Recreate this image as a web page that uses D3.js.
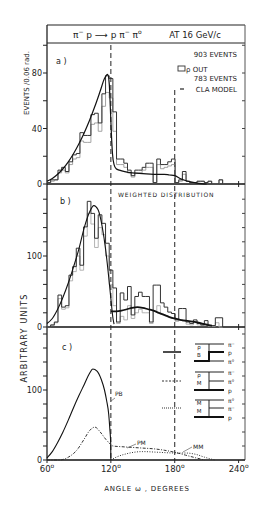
<!DOCTYPE html>
<html><head><meta charset="utf-8">
<script src="https://cdn.jsdelivr.net/npm/d3@7"></script>
<style>
body{margin:0;background:#fff;}
text{font-family:"DejaVu Sans",sans-serif;fill:#222;}
</style></head>
<body><svg id="c" width="273" height="511"></svg>
<script>
// ---- data ----
const binStart = 60;            // degrees
const binWidth = 3.4377;        // 0.06 rad in degrees
const histA = [1,3,3,10,12,9,16,21,22,37,35,35,50,51,44,65,78,76,52,18,18,15,10,6,10,10,12,15,15,1,18,14,14,16,18,1,3,9,2,1,1,2,2,1,2,0,0,3];
const histAout = [1,2,3,8,10,8,14,18,19,31,30,30,43,44,38,56,66,62,38,14,14,12,8,5,8,8,10,12,12,1,14,11,12,13,14,1,2,7,2,1,1,2,2,1,2,0,0,3];
const curveA = [[60,2],[65,4],[70,7],[75,11],[80,16],[85,22],[90,29],[95,37],[100,46],[105,56],[110,67],[114,76],[117,79],[118.5,72],[119.5,55],[120.5,36],[121.5,22],[123,14],[125,11],[128,10],[140,8],[150,7.5],[160,7],[170,7],[175,6.5],[180,6],[185,4],[190,2.5],[195,1.5],[200,0.8],[205,0.3],[210,0]];
const histB = [0,3,7,45,28,30,73,85,111,87,141,177,160,125,158,146,118,80,55,7,48,38,57,17,43,49,43,43,7,59,59,34,28,21,19,10,26,26,7,5,10,5,3,9,2,2,13,13];
const histBout = [0,2,6,40,25,27,65,78,100,80,128,160,145,112,140,130,100,60,30,5,15,10,30,12,20,25,20,20,5,22,30,18,16,14,12,8,10,8,4,3,6,3,2,5,1,1,6,0];
const curveB1 = [[60,5],[65,12],[70,25],[75,42],[80,62],[85,85],[90,110],[95,140],[100,162],[104,171],[108,165],[112,140],[115,110],[118,70],[120,40],[122,12],[123,4]];
const curveB2 = [[120,22],[125,22],[130,23],[135,25],[140,27],[145,28],[150,27],[155,25],[160,23],[165,20],[170,17],[175,14],[180,12],[185,10],[190,9],[195,8],[200,7],[205,5],[210,3],[215,2]];
const curvePB = [[60,3],[65,12],[70,25],[75,40],[80,57],[85,75],[90,92],[95,108],[100,124],[103,130],[107,127],[111,115],[114,100],[116,85],[118,65],[119,45],[119.8,25],[120,0]];
const curvePM = [[60,0],[72,0],[80,4],[88,14],[95,30],[100,42],[105,47],[110,40],[115,30],[118,25],[122,20],[130,19],[140,18],[150,17],[160,16],[170,14],[180,11],[190,7],[200,3],[208,0]];
const curveMM = [[120,0],[125,4],[135,9],[150,12],[165,11],[180,10],[190,10],[200,8],[208,4],[215,1],[218,0]];
const xTicks = [60,120,180,240];
const yTicksA = [0,40,80], yTicksB = [0,100], yTicksC = [0,100];

// ---- layout ----
const svg = d3.select("#c");
const L = 47, R = 245;
const x = d3.scaleLinear().domain([60,246]).range([L,R]);
const yA = d3.scaleLinear().domain([0,80]).range([184,73]);
const yB = d3.scaleLinear().domain([0,100]).range([327,256]);
const yC = d3.scaleLinear().domain([0,100]).range([460,390]);

function histLine(vals, y){
  const pts = vals.map((v,i)=>[binStart+i*binWidth, v]);
  pts.push([binStart+vals.length*binWidth, 0]);
  return d3.line().x(d=>x(d[0])).y(d=>y(d[1])).curve(d3.curveStepAfter)(pts);
}
function curveLine(pts, y){
  return d3.line().x(d=>x(d[0])).y(d=>y(d[1])).curve(d3.curveMonotoneX)(pts);
}

// frame
svg.append("line").attr("x1",L).attr("x2",R).attr("y1",25).attr("y2",25).attr("stroke","#222").attr("stroke-width",1.2);
svg.append("line").attr("x1",L).attr("x2",R).attr("y1",43).attr("y2",43).attr("stroke","#222").attr("stroke-width",1);
svg.append("line").attr("x1",L).attr("x2",L).attr("y1",25).attr("y2",460).attr("stroke","#222").attr("stroke-width",1.3);
svg.append("line").attr("x1",R).attr("x2",R).attr("y1",25).attr("y2",460).attr("stroke","#555").attr("stroke-width",1);

// baselines
[[yA,184],[yB,327],[yC,460]].forEach(([y,yy])=>{
  svg.append("line").attr("x1",L).attr("x2",R).attr("y1",yy).attr("y2",yy).attr("stroke","#111").attr("stroke-width",1.5);
});
[184,327].forEach(yy=>{
  svg.append("line").attr("x1",x(240)).attr("x2",x(240)).attr("y1",yy-3).attr("y2",yy+3).attr("stroke","#222");
});

// y ticks
function yTicksDraw(y, lo, hi, step, labels){
  for(let v=lo; v<=hi; v+=step){
    svg.append("line").attr("x1",L-4).attr("x2",L).attr("y1",y(v)).attr("y2",y(v)).attr("stroke","#222");
    svg.append("line").attr("x1",R-3).attr("x2",R).attr("y1",y(v)).attr("y2",y(v)).attr("stroke","#444");
  }
  labels.forEach(v=>{
    svg.append("text").attr("x",L-5).attr("y",y(v)+3).attr("text-anchor","end").attr("font-size",8).text(v);
  });
}
yTicksDraw(yA,0,100,20,yTicksA);
yTicksDraw(yB,0,190,20,yTicksB);
yTicksDraw(yC,0,180,20,yTicksC);

// x ticks
xTicks.forEach(t=>{
  svg.append("line").attr("x1",x(t)).attr("x2",x(t)).attr("y1",460).attr("y2",463).attr("stroke","#222");
  const g = svg.append("text").attr("x",x(t)).attr("y",472).attr("text-anchor","middle").attr("font-size",8.5);
  g.append("tspan").text(t);
  g.append("tspan").attr("dy",-4).attr("font-size",6).text("o");
});
svg.append("text").attr("x",147).attr("y",491).attr("text-anchor","middle").attr("font-size",7).attr("letter-spacing",0.8).text("ANGLE  ω  ,  DEGREES");

// vertical dashed lines
svg.append("line").attr("x1",x(120)).attr("x2",x(120)).attr("y1",45).attr("y2",460).attr("stroke","#222").attr("stroke-width",1).attr("stroke-dasharray","5,3");
svg.append("line").attr("x1",x(180)).attr("x2",x(180)).attr("y1",90).attr("y2",460).attr("stroke","#222").attr("stroke-width",1).attr("stroke-dasharray","5,3");

// Panel a
svg.append("path").attr("d",histLine(histAout,yA)).attr("fill","none").attr("stroke","#999").attr("stroke-width",0.9);
svg.append("path").attr("d",histLine(histA,yA)).attr("fill","none").attr("stroke","#333").attr("stroke-width",1);
svg.append("path").attr("d",curveLine(curveA,yA)).attr("fill","none").attr("stroke","#111").attr("stroke-width",1.2);

// Panel b
svg.append("path").attr("d",histLine(histBout,yB)).attr("fill","none").attr("stroke","#aaa").attr("stroke-width",0.9);
svg.append("path").attr("d",histLine(histB,yB)).attr("fill","none").attr("stroke","#333").attr("stroke-width",1);
svg.append("path").attr("d",curveLine(curveB1,yB)).attr("fill","none").attr("stroke","#111").attr("stroke-width",1.1);
svg.append("path").attr("d",curveLine(curveB2,yB)).attr("fill","none").attr("stroke","#111").attr("stroke-width",1.8);

// Panel c
svg.append("path").attr("d",d3.line().x(d=>x(d[0])).y(d=>yC(d[1])).curve(d3.curveMonotoneX)(curvePB)).attr("fill","none").attr("stroke","#111").attr("stroke-width",1.1);
svg.append("path").attr("d",curveLine(curvePM,yC)).attr("fill","none").attr("stroke","#333").attr("stroke-width",1).attr("stroke-dasharray","3,1.5,1,1.5");
svg.append("path").attr("d",curveLine(curveMM,yC)).attr("fill","none").attr("stroke","#333").attr("stroke-width",1).attr("stroke-dasharray","1,1.5");

// curve labels in c
svg.append("text").attr("x",115).attr("y",396).attr("font-size",6).text("PB");
svg.append("line").attr("x1",111).attr("x2",115).attr("y1",401).attr("y2",398).attr("stroke","#444").attr("stroke-width",0.6);
svg.append("text").attr("x",137).attr("y",445).attr("font-size",6).text("PM");
svg.append("line").attr("x1",127).attr("x2",136).attr("y1",448).attr("y2",444).attr("stroke","#444").attr("stroke-width",0.6);
svg.append("text").attr("x",193).attr("y",449).attr("font-size",6).text("MM");
svg.append("line").attr("x1",183).attr("x2",192).attr("y1",452).attr("y2",447).attr("stroke","#444").attr("stroke-width",0.6);

// legend in c
svg.append("line").attr("x1",163).attr("x2",181).attr("y1",352).attr("y2",352).attr("stroke","#111").attr("stroke-width",1.5);
svg.append("line").attr("x1",162).attr("x2",181).attr("y1",381).attr("y2",381).attr("stroke","#333").attr("stroke-width",1).attr("stroke-dasharray","2,1.5");
svg.append("line").attr("x1",162).attr("x2",181).attr("y1",408).attr("y2",408).attr("stroke","#333").attr("stroke-width",1).attr("stroke-dasharray","1,1");
const diag = [
  {y:[344,352,361], labs:["π⁻","p","π°"], inner:["ρ","B"], thickMid:true},
  {y:[372,381,390], labs:["π⁻","π°","p"], inner:["ρ","M"], thickMid:false},
  {y:[400,408,417], labs:["π°","π⁻","p"], inner:["M","M"], thickMid:false}
];
diag.forEach(d=>{
  svg.append("line").attr("x1",195).attr("x2",224).attr("y1",d.y[0]).attr("y2",d.y[0]).attr("stroke","#222").attr("stroke-width",1);
  svg.append("line").attr("x1",209).attr("x2",209).attr("y1",d.y[0]).attr("y2",d.y[2]).attr("stroke","#222").attr("stroke-width",1);
  svg.append("line").attr("x1",209).attr("x2",224).attr("y1",d.y[1]).attr("y2",d.y[1]).attr("stroke","#222").attr("stroke-width",1);
  if(d.thickMid){
    svg.append("path").attr("d",`M194,${d.y[2]}H209V${d.y[1]}H224`).attr("fill","none").attr("stroke","#111").attr("stroke-width",2);
    svg.append("line").attr("x1",209).attr("x2",224).attr("y1",d.y[2]).attr("y2",d.y[2]).attr("stroke","#222").attr("stroke-width",1);
  } else {
    svg.append("line").attr("x1",194).attr("x2",224).attr("y1",d.y[2]).attr("y2",d.y[2]).attr("stroke","#111").attr("stroke-width",2);
  }
  svg.append("text").attr("x",199).attr("y",d.y[0]+5).attr("font-size",5.5).attr("text-anchor","middle").text(d.inner[0]);
  svg.append("text").attr("x",199).attr("y",d.y[0]+13).attr("font-size",5.5).attr("text-anchor","middle").text(d.inner[1]);
  d.labs.forEach((l,i)=>svg.append("text").attr("x",228).attr("y",d.y[i]+2.5).attr("font-size",6).text(l));
});

// panel labels
svg.append("text").attr("x",56).attr("y",64).attr("font-size",8).text("a )");
svg.append("text").attr("x",60).attr("y",204).attr("font-size",8).text("b )");
svg.append("text").attr("x",62).attr("y",350).attr("font-size",8).text("c )");
svg.append("text").attr("x",118).attr("y",197).attr("font-size",6).attr("letter-spacing",0.9).text("WEIGHTED  DISTRIBUTION");

// title
const t1 = svg.append("text").attr("x",73).attr("y",38).attr("font-size",9);
t1.append("tspan").text("π");
t1.append("tspan").attr("dy",-4).attr("font-size",6).text("−");
t1.append("tspan").attr("dy",4).text(" p ⟶ p π");
t1.append("tspan").attr("dy",-4).attr("font-size",6).text("−");
t1.append("tspan").attr("dy",4).text(" π");
t1.append("tspan").attr("dy",-4).attr("font-size",6).text("o");
svg.append("text").attr("x",195).attr("y",38).attr("text-anchor","middle").attr("font-size",8.5).text("AT  16  GeV/c");

// legend a
svg.append("text").attr("x",237).attr("y",57).attr("text-anchor","end").attr("font-size",7).text("903  EVENTS");
svg.append("rect").attr("x",178).attr("y",66).attr("width",7).attr("height",5).attr("fill","none").attr("stroke","#333").attr("stroke-width",0.9);
svg.append("text").attr("x",186).attr("y",72).attr("font-size",7).text("ρ OUT");
svg.append("text").attr("x",237).attr("y",81).attr("text-anchor","end").attr("font-size",7).text("783  EVENTS");
svg.append("line").attr("x1",180).attr("x2",184).attr("y1",89).attr("y2",89).attr("stroke","#222").attr("stroke-width",1.2);
svg.append("text").attr("x",237).attr("y",92).attr("text-anchor","end").attr("font-size",7).text("CLA MODEL");

// y labels
svg.append("text").attr("transform","translate(29,83) rotate(-90)").attr("text-anchor","middle").attr("font-size",7).text("EVENTS /0.06 rad.");
svg.append("text").attr("transform","translate(27,338) rotate(-90)").attr("text-anchor","middle").attr("font-size",8).attr("letter-spacing",1.2).text("ARBITRARY   UNITS");
</script></body></html>
